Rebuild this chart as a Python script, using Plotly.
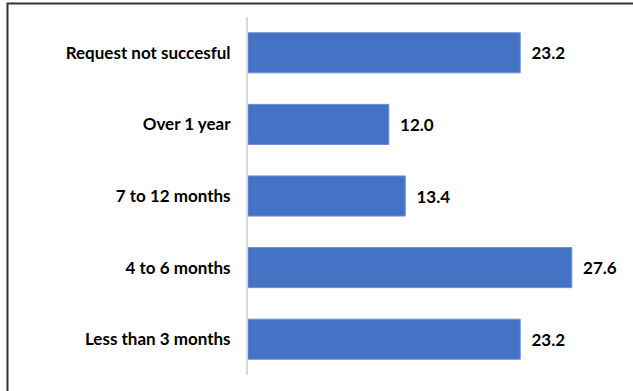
import plotly.graph_objects as go

categories = ["Less than 3 months", "4 to 6 months", "7 to 12 months", "Over 1 year", "Request not succesful"]
values = [23.2, 27.6, 13.4, 12.0, 23.2]
value_labels = ["23.2", "27.6", "13.4", "12.0", "23.2"]

fig = go.Figure(go.Bar(
    y=categories, x=values, orientation="h",
    marker=dict(color="#4472C4", line=dict(color="#6f8fd0", width=1)),
    text=value_labels, texttemplate="\u00a0\u00a0%{text}",
    textposition="outside", cliponaxis=False,
    textfont=dict(family="Lato", size=17, color="#000000", weight="bold"),
    width=0.56,
))

L, T, W, H = 248, 17, 352, 358
fig.update_layout(
    width=633, height=391,
    margin=dict(l=L, r=633 - L - W, t=T, b=391 - T - H, pad=0),
    paper_bgcolor="white", plot_bgcolor="white",
    showlegend=False,
    font=dict(family="Lato", size=17, color="#000000"),
    xaxis=dict(range=[0, 30], showgrid=False, zeroline=False, showticklabels=False, showline=False),
    yaxis=dict(range=[-0.5, 4.5], showline=True, linecolor="#d9d9d9", linewidth=2,
               ticks="", ticklabelstandoff=12, showgrid=False,
               tickfont=dict(family="Lato", size=17, color="#000000", weight="bold")),
)

fig.add_shape(type="rect", xref="paper", yref="paper",
              x0=(7.5 - L) / W, x1=(645 - L) / W,
              y0=-(400 - (T + H)) / H, y1=1 + (T - 3.5) / H,
              line=dict(color="#333333", width=2), layer="above")

fig.write_html("out.html", config={"displayModeBar": False},
               post_script="document.body.style.margin='0';document.body.style.overflow='hidden';")
